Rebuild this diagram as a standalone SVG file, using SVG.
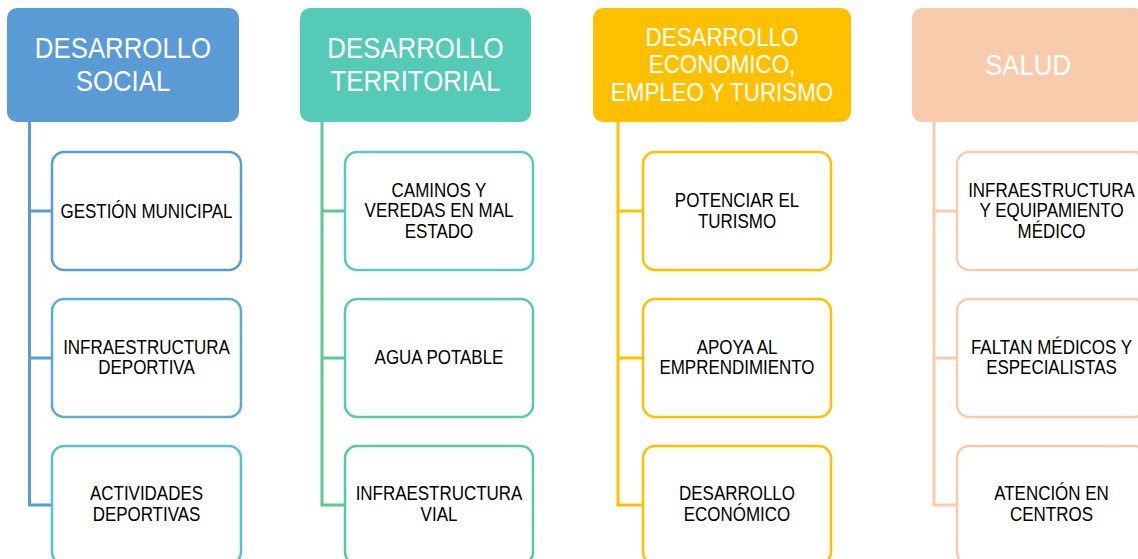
<svg xmlns="http://www.w3.org/2000/svg" width="1138" height="559" viewBox="0 0 1138 559">
<style>
.bg{fill:#ffffff}
.hdr text{fill:#ffffff;font-family:"Liberation Sans",Arial,sans-serif;text-anchor:middle}
.h30{font-size:30px}
.h26{font-size:26px}
.child rect{fill:#ffffff;stroke-width:2.5}
.child text{fill:#000000;font-family:"Liberation Sans",Arial,sans-serif;font-size:19.5px;text-anchor:middle}
.conn path{fill:none;stroke-width:3}
</style>
<rect class="bg" x="0" y="0" width="1138" height="559"/>
<g class="conn" id="connectors">
<path d="M29.5 122V505H52M29.5 211H52M29.5 358H52" stroke="#5B9BD5"/>
<path d="M322 122V505H345M322 211H345M322 358H345" stroke="#5CC98F"/>
<path d="M618 122V505H643M618 211H643M618 358H643" stroke="#FFC000"/>
<path d="M934 122V505H957M934 211H957M934 358H957" stroke="#F8CBAD"/>
</g>
<g class="hdr" id="h-social">
<rect x="7" y="8" width="232" height="114" rx="10" fill="#5B9BD5"/>
<text class="h30" transform="translate(123 0) scale(0.86 1)"><tspan x="0" y="58">DESARROLLO</tspan><tspan x="0" y="91">SOCIAL</tspan></text>
</g>
<g class="hdr" id="h-territorial">
<rect x="300" y="8" width="231" height="114" rx="10" fill="#55CAB7"/>
<text class="h30" transform="translate(415.5 0) scale(0.86 1)"><tspan x="0" y="58">DESARROLLO</tspan><tspan x="0" y="91">TERRITORIAL</tspan></text>
</g>
<g class="hdr" id="h-economico">
<rect x="593" y="8" width="258" height="114" rx="10" fill="#FFC000"/>
<text class="h26" transform="translate(722 0) scale(0.86 1)"><tspan x="0" y="46">DESARROLLO</tspan><tspan x="0" y="73.5">ECONOMICO,</tspan><tspan x="0" y="101">EMPLEO Y TURISMO</tspan></text>
</g>
<g class="hdr" id="h-salud">
<rect x="912" y="8" width="232" height="114" rx="10" fill="#F8CBAD"/>
<text class="h30" transform="translate(1028 0) scale(0.86 1)"><tspan x="0" y="75">SALUD</tspan></text>
</g>
<g class="child" id="c1-1">
<rect x="52" y="152" width="189" height="118" rx="12" stroke="#5B9BD5"/>
<text transform="translate(146.5 0) scale(0.87 1)"><tspan x="0" y="218">GESTIÓN MUNICIPAL</tspan></text>
</g>
<g class="child" id="c1-2">
<rect x="52" y="299" width="189" height="118" rx="12" stroke="#5BABD6"/>
<text transform="translate(146.5 0) scale(0.87 1)"><tspan x="0" y="354">INFRAESTRUCTURA</tspan><tspan x="0" y="374.5">DEPORTIVA</tspan></text>
</g>
<g class="child" id="c1-3">
<rect x="52" y="446" width="189" height="118" rx="12" stroke="#55C0D4"/>
<text transform="translate(146.5 0) scale(0.87 1)"><tspan x="0" y="500.5">ACTIVIDADES</tspan><tspan x="0" y="521">DEPORTIVAS</tspan></text>
</g>
<g class="child" id="c2-1">
<rect x="345" y="152" width="188" height="118" rx="12" stroke="#57C8C6"/>
<text transform="translate(439 0) scale(0.87 1)"><tspan x="0" y="197">CAMINOS Y</tspan><tspan x="0" y="217.5">VEREDAS EN MAL</tspan><tspan x="0" y="238">ESTADO</tspan></text>
</g>
<g class="child" id="c2-2">
<rect x="345" y="299" width="188" height="118" rx="12" stroke="#55C9B2"/>
<text transform="translate(439 0) scale(0.87 1)"><tspan x="0" y="364">AGUA POTABLE</tspan></text>
</g>
<g class="child" id="c2-3">
<rect x="345" y="446" width="188" height="118" rx="12" stroke="#55C9A2"/>
<text transform="translate(439 0) scale(0.87 1)"><tspan x="0" y="500.5">INFRAESTRUCTURA</tspan><tspan x="0" y="521">VIAL</tspan></text>
</g>
<g class="child" id="c3-1">
<rect x="643" y="152" width="188" height="118" rx="12" stroke="#FFC000"/>
<text transform="translate(737 0) scale(0.87 1)"><tspan x="0" y="207">POTENCIAR EL</tspan><tspan x="0" y="228">TURISMO</tspan></text>
</g>
<g class="child" id="c3-2">
<rect x="643" y="299" width="188" height="118" rx="12" stroke="#FFC000"/>
<text transform="translate(737 0) scale(0.87 1)"><tspan x="0" y="354">APOYA AL</tspan><tspan x="0" y="374.5">EMPRENDIMIENTO</tspan></text>
</g>
<g class="child" id="c3-3">
<rect x="643" y="446" width="188" height="118" rx="12" stroke="#FFC000"/>
<text transform="translate(737 0) scale(0.87 1)"><tspan x="0" y="500.5">DESARROLLO</tspan><tspan x="0" y="521">ECONÓMICO</tspan></text>
</g>
<g class="child" id="c4-1">
<rect x="957" y="152" width="189" height="118" rx="12" stroke="#F8CBAD"/>
<text transform="translate(1051.5 0) scale(0.87 1)"><tspan x="0" y="197">INFRAESTRUCTURA</tspan><tspan x="0" y="217.5">Y EQUIPAMIENTO</tspan><tspan x="0" y="238">MÉDICO</tspan></text>
</g>
<g class="child" id="c4-2">
<rect x="957" y="299" width="189" height="118" rx="12" stroke="#F8CBAD"/>
<text transform="translate(1051.5 0) scale(0.87 1)"><tspan x="0" y="354">FALTAN MÉDICOS Y</tspan><tspan x="0" y="374.5">ESPECIALISTAS</tspan></text>
</g>
<g class="child" id="c4-3">
<rect x="957" y="446" width="189" height="118" rx="12" stroke="#F8CBAD"/>
<text transform="translate(1051.5 0) scale(0.87 1)"><tspan x="0" y="500.5">ATENCIÓN EN</tspan><tspan x="0" y="521">CENTROS</tspan></text>
</g>
</svg>
